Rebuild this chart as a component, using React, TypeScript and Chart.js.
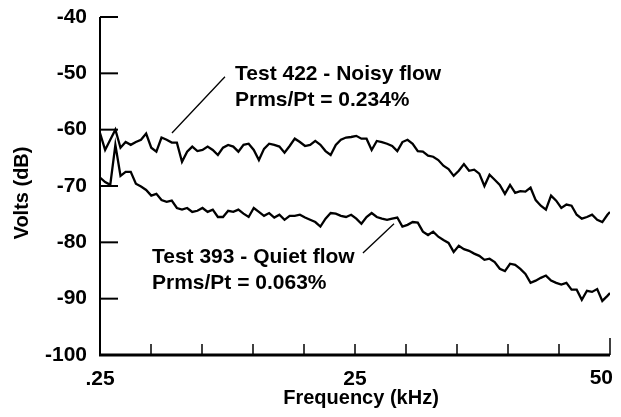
import React, { useEffect, useRef } from "react";
import { Chart, registerables } from "chart.js";

Chart.register(...registerables);

// Frequency samples (kHz)
const FREQ = [
  0.25, 0.75, 1.25, 1.75, 2.25, 2.75, 3.25, 3.75, 4.25, 4.75,
  5.25, 5.75, 6.25, 6.75, 7.25, 7.75, 8.25, 8.75, 9.25, 9.75,
  10.25, 10.75, 11.25, 11.75, 12.25, 12.75, 13.25, 13.75, 14.25, 14.75,
  15.25, 15.75, 16.25, 16.75, 17.25, 17.75, 18.25, 18.75, 19.25, 19.75,
  20.25, 20.75, 21.25, 21.75, 22.25, 22.75, 23.25, 23.75, 24.25, 24.75,
  25.25, 25.75, 26.25, 26.75, 27.25, 27.75, 28.25, 28.75, 29.25, 29.75,
  30.25, 30.75, 31.25, 31.75, 32.25, 32.75, 33.25, 33.75, 34.25, 34.75,
  35.25, 35.75, 36.25, 36.75, 37.25, 37.75, 38.25, 38.75, 39.25, 39.75,
  40.25, 40.75, 41.25, 41.75, 42.25, 42.75, 43.25, 43.75, 44.25, 44.75,
  45.25, 45.75, 46.25, 46.75, 47.25, 47.75, 48.25, 48.75, 49.25, 49.75,
  50,
];

// Test 422 - Noisy flow (dB)
const NOISY = [
  -60.6, -63.6, -61.8, -60.0, -63.2, -62.2, -62.7, -62.2, -61.8, -60.7,
  -63.2, -63.9, -61.4, -61.8, -62.3, -62.3, -65.7, -63.9, -63.0, -63.8,
  -63.6, -63.0, -63.6, -64.5, -63.2, -62.7, -63.0, -63.9, -62.7, -62.5,
  -63.6, -65.4, -63.4, -62.5, -62.7, -63.0, -64.1, -62.9, -61.6, -62.2,
  -62.9, -62.7, -62.0, -62.7, -63.8, -64.5, -62.7, -61.8, -61.4, -61.3,
  -61.1, -61.6, -61.6, -63.6, -62.0, -62.2, -62.5, -62.9, -63.8, -62.2,
  -61.8, -62.5, -63.8, -63.9, -64.6, -64.8, -65.4, -66.4, -67.0, -68.2,
  -67.3, -66.1, -67.3, -67.1, -67.8, -70.0, -68.0, -68.9, -69.8, -71.4,
  -69.8, -71.2, -70.9, -71.0, -70.3, -72.5, -73.5, -74.2, -71.7, -72.6,
  -73.9, -73.3, -73.5, -75.1, -75.8, -75.5, -75.1, -76.0, -76.4, -75.1,
  -74.6,
];

// Test 393 - Quiet flow (dB)
const QUIET = [
  -68.5, -69.3, -69.8, -62.7, -68.2, -67.5, -67.5, -69.6, -70.1, -70.7,
  -71.7, -71.4, -72.5, -72.8, -72.6, -73.9, -74.2, -73.9, -74.6, -74.4,
  -73.9, -74.6, -74.2, -75.5, -75.5, -74.4, -74.6, -74.2, -74.9, -75.5,
  -73.9, -74.6, -75.3, -74.8, -75.6, -75.1, -76.0, -75.3, -75.3, -75.1,
  -75.6, -76.0, -76.4, -77.2, -75.8, -74.8, -74.9, -75.3, -75.5, -75.1,
  -75.8, -76.7, -75.5, -74.8, -75.5, -75.8, -76.0, -75.8, -75.6, -77.2,
  -76.9, -76.4, -76.5, -78.1, -78.7, -78.1, -79.0, -79.6, -80.1, -81.7,
  -80.6, -81.2, -81.5, -82.0, -82.4, -83.1, -82.9, -83.5, -84.7, -85.1,
  -83.8, -84.0, -84.7, -85.6, -87.2, -86.8, -86.3, -85.9, -86.8, -87.2,
  -87.5, -87.2, -88.4, -88.4, -90.2, -88.6, -88.8, -88.3, -90.4, -89.5,
  -89.0,
];

const X_TICKS = [0.25, 5.225, 10.2, 15.175, 20.15, 25.125, 30.1, 35.075, 40.05, 45.025, 50];
const X_TICK_LABELS = [".25", "", "", "", "", "25", "", "", "", "", "50"];
const Y_TICKS = [-100, -90, -80, -70, -60, -50, -40];

const X_TITLE = "Frequency (kHz)";
const Y_TITLE = "Volts (dB)";
const NOISY_LABEL = ["Test 422 - Noisy flow", "Prms/Pt = 0.234%"];
const QUIET_LABEL = ["Test 393 - Quiet flow", "Prms/Pt = 0.063%"];

const FONT = "'Liberation Sans', Arial, Helvetica, sans-serif";
const LAST = X_TICKS.length - 1;

const decor = {
  id: "decor",
  afterDraw(chart: any) {
    const ctx = chart.ctx;
    const xs = chart.scales.x;
    const ys = chart.scales.y;
    const { left, right, top, bottom } = chart.chartArea;
    ctx.save();
    ctx.strokeStyle = "#000";
    ctx.fillStyle = "#000";
    // axes
    ctx.lineWidth = 2;
    ctx.beginPath();
    ctx.moveTo(left, ys.getPixelForValue(-40));
    ctx.lineTo(left, bottom + 1);
    ctx.stroke();
    ctx.lineWidth = 3;
    ctx.beginPath();
    ctx.moveTo(left - 1, bottom);
    ctx.lineTo(right, bottom);
    ctx.stroke();
    // y ticks (inward)
    ctx.lineWidth = 2;
    Y_TICKS.forEach((v) => {
      if (v === -100) return;
      const y = ys.getPixelForValue(v);
      ctx.beginPath();
      ctx.moveTo(left, y);
      ctx.lineTo(left + 18, y);
      ctx.stroke();
    });
    // x ticks (inward)
    ctx.lineWidth = 1.5;
    X_TICKS.forEach((v, i) => {
      if (i === 0) return;
      const x = xs.getPixelForValue(v);
      const len = i === LAST ? 17 : 11;
      ctx.beginPath();
      ctx.moveTo(x, bottom);
      ctx.lineTo(x, bottom - len);
      ctx.stroke();
    });
    // last x tick label, kept inside the visible area
    ctx.font = `bold 21px ${FONT}`;
    ctx.textAlign = "right";
    ctx.textBaseline = "middle";
    ctx.fillText(X_TICK_LABELS[LAST], chart.width, bottom + 23);
    // leader lines
    ctx.lineWidth = 1.3;
    ctx.beginPath();
    ctx.moveTo(xs.getPixelForValue(12.44), ys.getPixelForValue(-50.6));
    ctx.lineTo(xs.getPixelForValue(7.27), ys.getPixelForValue(-60.6));
    ctx.stroke();
    ctx.beginPath();
    ctx.moveTo(xs.getPixelForValue(25.9), ys.getPixelForValue(-81.9));
    ctx.lineTo(xs.getPixelForValue(28.93), ys.getPixelForValue(-76.7));
    ctx.stroke();
    // annotation text
    ctx.textAlign = "left";
    ctx.fillText(NOISY_LABEL[0], xs.getPixelForValue(13.42), ys.getPixelForValue(-50.1));
    ctx.fillText(NOISY_LABEL[1], xs.getPixelForValue(13.42), ys.getPixelForValue(-54.8));
    ctx.fillText(QUIET_LABEL[0], xs.getPixelForValue(5.32), ys.getPixelForValue(-82.7));
    ctx.fillText(QUIET_LABEL[1], xs.getPixelForValue(5.32), ys.getPixelForValue(-87.2));
    // axis titles
    ctx.font = `bold 20px ${FONT}`;
    ctx.textAlign = "center";
    ctx.textBaseline = "alphabetic";
    ctx.fillText(X_TITLE, (left + right) / 2 + 6, chart.height - 5);
    ctx.translate(14, (top + bottom) / 2 + 7);
    ctx.rotate(-Math.PI / 2);
    ctx.textBaseline = "middle";
    ctx.fillText(Y_TITLE, 0, 0);
    ctx.restore();
  },
};

const noPad = (s: any) => {
  s.paddingTop = 0;
  s.paddingBottom = 0;
  s.paddingLeft = 0;
  s.paddingRight = 0;
};

export default function App() {
  const ref = useRef<HTMLCanvasElement>(null);
  useEffect(() => {
    if (!ref.current) return;
    const chart = new Chart(ref.current, {
      type: "line",
      data: {
        datasets: [
          {
            label: NOISY_LABEL[0],
            data: FREQ.map((f, i) => ({ x: f, y: NOISY[i] })),
            borderColor: "#000",
            borderWidth: 2.3,
            pointRadius: 0,
            tension: 0,
          },
          {
            label: QUIET_LABEL[0],
            data: FREQ.map((f, i) => ({ x: f, y: QUIET[i] })),
            borderColor: "#000",
            borderWidth: 2.3,
            pointRadius: 0,
            tension: 0,
          },
        ],
      },
      options: {
        animation: false,
        responsive: false,
        maintainAspectRatio: false,
        layout: { padding: { top: 9, right: 3, left: 0, bottom: 0 } },
        plugins: { legend: { display: false }, tooltip: { enabled: false } },
        scales: {
          x: {
            type: "linear",
            min: 0.25,
            max: 50,
            grid: { display: false, drawTicks: false },
            border: { display: false },
            afterBuildTicks: (s: any) => {
              s.ticks = X_TICKS.map((v) => ({ value: v }));
            },
            afterFit: (s: any) => {
              s.height = 54;
              noPad(s);
            },
            ticks: {
              autoSkip: false,
              maxRotation: 0,
              padding: 12,
              color: "#000",
              font: { family: FONT, weight: "bold", size: 21 },
              callback: (_v: any, i: number) => (i === LAST ? "" : X_TICK_LABELS[i]),
            },
          },
          y: {
            type: "linear",
            min: -100,
            max: -40,
            grid: { display: false, drawTicks: false },
            border: { display: false },
            afterBuildTicks: (s: any) => {
              s.ticks = Y_TICKS.map((v) => ({ value: v }));
            },
            afterFit: (s: any) => {
              s.width = 92;
              noPad(s);
            },
            ticks: {
              padding: 13,
              color: "#000",
              font: { family: FONT, weight: "bold", size: 21 },
              callback: (v: any) => String(v),
            },
          },
        },
      },
      plugins: [decor],
    } as any);
    return () => chart.destroy();
  }, []);
  return (
    <div style={{ width: 605, height: 401 }}>
      <canvas ref={ref} width={605} height={401} style={{ display: "block" }} />
    </div>
  );
}
